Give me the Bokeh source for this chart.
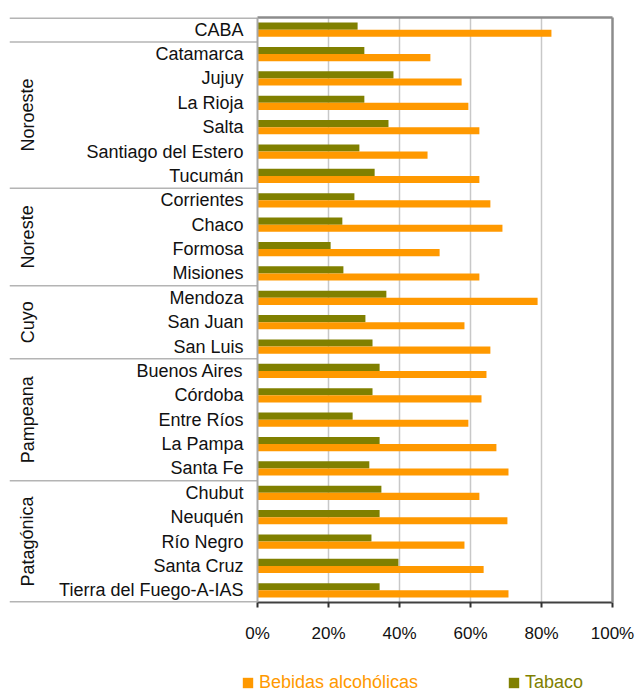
from bokeh.plotting import figure
from bokeh.layouts import column
from bokeh.models import (ColumnDataSource, FactorRange, Range1d, LinearAxis, CategoricalAxis,
                          FixedTicker, PrintfTickFormatter, Span, Legend, LegendItem)
from bokeh.transform import dodge
from bokeh.core.properties import value
from bokeh.embed import file_html
from bokeh.resources import INLINE

# ---------------- data (top to bottom) ----------------
provinces = ["CABA", "Catamarca", "Jujuy", "La Rioja", "Salta", "Santiago del Estero",
             "Tucumán", "Corrientes", "Chaco", "Formosa", "Misiones", "Mendoza",
             "San Juan", "San Luis", "Buenos Aires", "Córdoba", "Entre Ríos",
             "La Pampa", "Santa Fe", "Chubut", "Neuquén", "Río Negro", "Santa Cruz",
             "Tierra del Fuego-A-IAS"]
alcohol = [82.8, 48.7, 57.5, 59.4, 62.5, 47.9, 62.5, 65.6, 69.0, 51.3, 62.5, 78.9,
           58.3, 65.6, 64.5, 63.1, 59.4, 67.3, 70.7, 62.5, 70.4, 58.3, 63.7, 70.7]
tobacco = [28.2, 30.1, 38.3, 30.1, 36.9, 28.7, 33.0, 27.3, 23.9, 20.6, 24.2, 36.3,
           30.4, 32.4, 34.4, 32.4, 26.8, 34.4, 31.5, 34.9, 34.4, 32.1, 39.7, 34.4]
groups = ["", "Noroeste", "Noreste", "Cuyo", "Pampeana", "Patagónica"]
group_sizes = [1, 6, 4, 3, 5, 5]
x_ticks = [0, 20, 40, 60, 80, 100]
series_names = ["Bebidas alcohólicas", "Tabaco"]

ORANGE = "#FF9900"
OLIVE = "#808000"
FONT = "Liberation Sans"
FS = "18px"

# ---------------- geometry (page px) ----------------
W, H_MAIN, H_LEG = 635, 660, 31
frame_left, zero_x, hundred_x = 9, 257, 612
frame_top, frame_bottom = 17, 602
ppu = (hundred_x - zero_x) / 100.0
x_start = -(zero_x - frame_left) / ppu

n = len(provinces)
p = figure(width=W, height=H_MAIN, output_backend="svg", toolbar_location=None,
           x_range=Range1d(x_start, 100),
           y_range=FactorRange(factors=list(reversed(provinces)), range_padding=0),
           y_axis_location=None,
           min_border_left=frame_left, min_border_right=W - hundred_x,
           min_border_top=frame_top, min_border_bottom=H_MAIN - frame_bottom)
p.outline_line_color = None
p.background_fill_color = "white"
p.border_fill_color = "white"
p.ygrid.visible = False

# grid
p.xgrid.ticker = FixedTicker(ticks=[t for t in x_ticks if 0 < t < 100])
p.xgrid.grid_line_color = "#c8c8c8"
p.xgrid.grid_line_width = 1.5

# bottom axis
ax = p.xaxis[0]
ax.ticker = FixedTicker(ticks=x_ticks)
ax.bounds = (0, 100)
ax.formatter = PrintfTickFormatter(format="%d%%")
ax.axis_line_color = "#404040"
ax.axis_line_width = 2
ax.major_tick_line_color = "#303030"
ax.major_tick_line_width = 2
ax.major_tick_in = 0
ax.major_tick_out = 5
ax.minor_tick_line_color = None
ax.major_label_text_font = FONT
ax.major_label_text_font_size = "17px"
ax.major_label_text_color = "#111111"
ax.major_label_standoff = 16

# top border
top_ax = LinearAxis(bounds=(0, 100), ticker=FixedTicker(ticks=[]),
                    axis_line_color="#8c8c8c", axis_line_width=2.5,
                    major_tick_line_color=None, minor_tick_line_color=None,
                    major_label_text_font_size="0px")
p.add_layout(top_ax, "above")
# right border
right_ax = CategoricalAxis(axis_line_color="#8c8c8c", axis_line_width=2.5,
                           major_tick_line_color=None, minor_tick_line_color=None,
                           major_label_text_font_size="0px",
                           major_label_text_alpha=0)
p.add_layout(right_ax, "right")

src = ColumnDataSource(dict(prov=provinces, alc=alcohol, tob=tobacco))

bh = 0.29
r_tob = p.hbar(y=dodge("prov", bh / 2, range=p.y_range), left=0, right="tob", height=bh,
               source=src, fill_color=OLIVE, line_color=None)
r_alc = p.hbar(y=dodge("prov", -bh / 2, range=p.y_range), left=0, right="alc", height=bh,
               source=src, fill_color=ORANGE, line_color=None)

# left axis line
p.add_layout(Span(location=0, dimension="height", line_color="#a8a8a8", line_width=2))

# category labels
p.text(x=(243 - zero_x) / ppu, y="prov", text="prov", source=src,
       text_align="right", text_baseline="middle", text_font=value(FONT),
       text_font_size=value(FS), text_color="#111111")

# group separators and group labels
bounds = [n]
for s in group_sizes:
    bounds.append(bounds[-1] - s)
sep_w = [3 if b in (0, n) else 1.5 for b in bounds]
p.segment(x0=x_start, x1=0, y0=bounds, y1=bounds, line_color="#b4b4b4", line_width=sep_w)

g_names, g_centers = [], []
for g, s, b in zip(groups, group_sizes, bounds[:-1]):
    if g:
        g_names.append(g)
        g_centers.append(b - s / 2.0)
p.text(x=(27 - zero_x) / ppu, y=g_centers, text=g_names, angle=1.5708,
       text_align="center", text_baseline="middle", text_font=value(FONT),
       text_font_size=value(FS), text_color="#111111")

# ---------------- legend strip ----------------
lf = figure(width=W, height=H_LEG, output_backend="svg", toolbar_location=None,
            x_range=Range1d(0, W), y_range=Range1d(0, H_LEG),
            x_axis_location=None, y_axis_location=None,
            min_border=0, min_border_left=0, min_border_right=0,
            min_border_top=0, min_border_bottom=0)
lf.outline_line_color = None
lf.xgrid.visible = False
lf.ygrid.visible = False
lf.border_fill_color = "white"

# proxy renderers (hidden) that only supply the legend swatches
proxy = ColumnDataSource(dict(y=[0], r=[0]))
d_alc = lf.hbar(y="y", left=0, right="r", height=1, source=proxy,
                fill_color=ORANGE, line_color=None, visible=False)
d_tob = lf.hbar(y="y", left=0, right="r", height=1, source=proxy,
                fill_color=OLIVE, line_color=None, visible=False)


def make_legend(label, rend, color, xloc):
    lg = Legend(items=[LegendItem(label=label, renderers=[rend])], location=(xloc, -2),
                orientation="horizontal", border_line_color=None, background_fill_alpha=0,
                padding=0, margin=0, spacing=0, glyph_width=13, glyph_height=13,
                label_standoff=5, label_text_font=FONT, label_text_font_size=FS,
                label_text_color=color, label_height=16, click_policy="none")
    lf.add_layout(lg, "center")


make_legend(series_names[0], d_alc, ORANGE, 232)
make_legend(series_names[1], d_tob, OLIVE, 498)

layout = column(p, lf, spacing=0)
open("out.html", "w").write(file_html(layout, INLINE))
